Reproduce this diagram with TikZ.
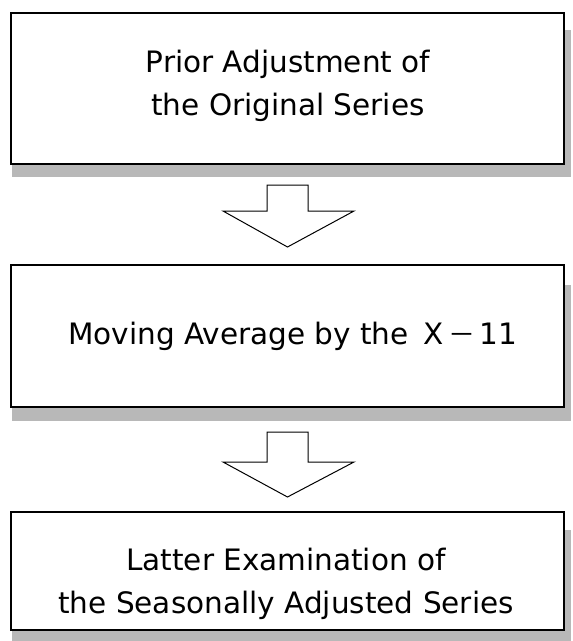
\documentclass[tikz,border=0pt]{standalone}
\usepackage{fontspec}
\setmainfont{DejaVu Sans}
\newfontfamily\cjk{Noto Sans CJK JP}
\begin{document}
\begin{tikzpicture}[x=1pt,y=-1pt,
  stepbox/.style={draw=black,line width=1.8pt,fill=white,inner sep=0pt,anchor=north west,minimum width=553pt},
  boxtext/.style={align=center,inner sep=0pt,font=\fontsize{29.5}{43}\selectfont},
  shade/.style={fill=black!28,draw=none},
  bigarrow/.style={draw=black,line width=1pt,fill=white,line join=miter}]
\useasboundingbox (0,0) rectangle (573,641);
% shadows
\fill[shade] (12,165) rectangle (571,177);
\fill[shade] (564,30) rectangle (571,177);
\fill[shade] (12,408) rectangle (571,421);
\fill[shade] (564,285) rectangle (571,421);
\fill[shade] (12,630) rectangle (571,641);
\fill[shade] (564,530) rectangle (571,641);
% boxes
\node[stepbox,minimum height=151pt] (b1) at (10,12) {};
\node[stepbox,minimum height=142pt] (b2) at (10,264) {};
\node[stepbox,minimum height=118pt] (b3) at (10,511) {};
\node[boxtext] (t1) at (288,86) {Prior Adjustment of\\the Original Series};
\node[boxtext,anchor=west] (t2) at (68,336) {Moving Average by the\hspace{15pt}X\kern5pt{\cjk\fontsize{27}{30}\selectfont －}\kern4pt 11};
\node[boxtext] (t3) at (286,584) {Latter Examination of\\the Seasonally Adjusted Series};
% arrows
\coordinate (a1) at (287.5,185);
\coordinate (a2) at (287.5,432);
\draw[bigarrow] (a1) ++(-20.5,0) -- ++(0,26) -- ++(-44,0) -- (287.5,247) -- (354,211) -- ++(-46,0) -- ++(0,-26) -- cycle;
\draw[bigarrow] (a2) ++(-20.5,0) -- ++(0,30) -- ++(-44,0) -- (287.5,497) -- (354,462) -- ++(-46,0) -- ++(0,-30) -- cycle;
\end{tikzpicture}
\end{document}
